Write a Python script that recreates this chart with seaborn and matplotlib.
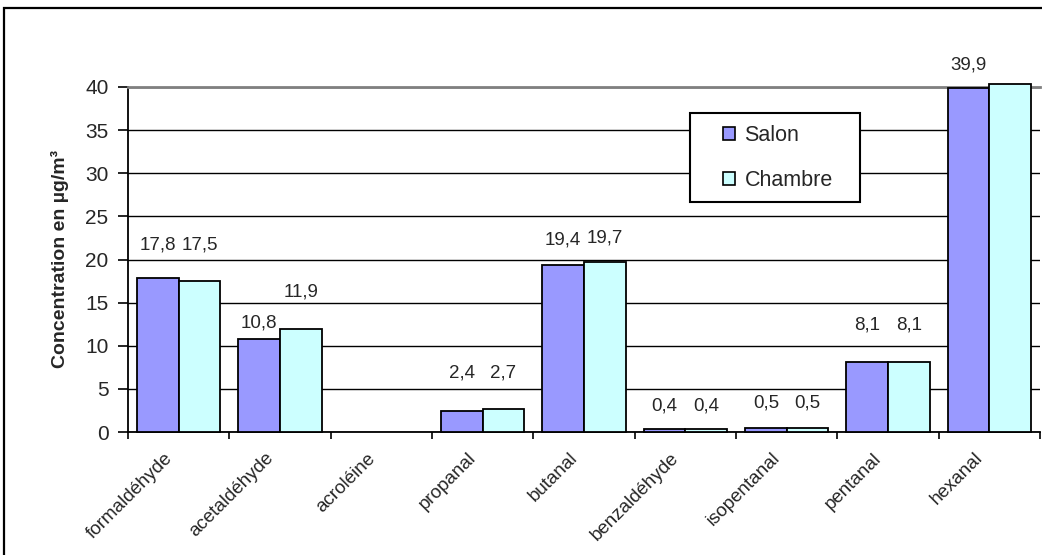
import numpy as np
import pandas as pd
import seaborn as sns
import matplotlib.pyplot as plt
from matplotlib.patches import Rectangle
from matplotlib.transforms import ScaledTranslation

# Aldehyde concentrations measured in two rooms (µg/m³)
compounds = ["formaldéhyde", "acetaldéhyde", "acroléine", "propanal", "butanal",
             "benzaldéhyde", "isopentanal", "pentanal", "hexanal"]
salon = [17.8, 10.8, np.nan, 2.4, 19.4, 0.4, 0.5, 8.1, 39.9]
chambre = [17.5, 11.9, np.nan, 2.7, 19.7, 0.4, 0.5, 8.1, 40.3]
series_names = ["Salon", "Chambre"]
y_ticks = [0, 5, 10, 15, 20, 25, 30, 35, 40]

# vertical gap between each bar top and its value label (pixels)
salon_label_gap = [33, 16, 0, 38, 25, 23, 25, 37, 23]
chambre_label_gap = [36, 37, 0, 36, 24, 23, 25, 37, 23]

sns.set_theme(style="white")
plt.rcParams["font.family"] = ["Liberation Sans", "DejaVu Sans"]

df = pd.DataFrame({
    "compose": compounds * 2,
    "piece": [series_names[0]] * len(compounds) + [series_names[1]] * len(compounds),
    "valeur": salon + chambre,
})

W, H, DPI = 1042, 555, 100
fig = plt.figure(figsize=(W / DPI, H / DPI), dpi=DPI)
ax = fig.add_axes([128 / W, 1 - 432 / H, 912 / W, 345 / H])

palette = {"Salon": "#9999FF", "Chambre": "#CCFFFF"}
sns.barplot(data=df, x="compose", y="valeur", hue="piece", order=compounds,
            hue_order=series_names, palette=palette, width=0.82, dodge=True,
            saturation=1, edgecolor="black", linewidth=1.3, legend=False, ax=ax,
            zorder=3)

for p in ax.patches:
    p.set_clip_on(False)

ax.set_xlim(-0.5, len(compounds) - 0.5)
ax.set_ylim(0, 40)
ax.set_yticks(y_ticks)
ax.set_yticklabels([str(v) for v in y_ticks], fontsize=15)

# horizontal gridlines
ax.yaxis.grid(True, color="black", linewidth=1.0)
ax.xaxis.grid(False)
ax.set_axisbelow(True)

for s in ["left", "bottom"]:
    ax.spines[s].set_color("black")
    ax.spines[s].set_linewidth(1.3)
ax.spines["top"].set_color("#808080")
ax.spines["top"].set_linewidth(2)
ax.spines["right"].set_visible(False)

ax.tick_params(axis="y", which="major", direction="out", length=7, width=1.2,
               color="black", pad=7, left=True)

# category labels centred, tick marks between categories
ax.set_xticks(range(len(compounds)))
ax.set_xticklabels(compounds, rotation=45, ha="right", va="center",
                   rotation_mode="anchor", fontsize=13.5)
ax.set_xticks(np.arange(-0.5, len(compounds), 1.0), minor=True)
ax.tick_params(axis="x", which="major", length=0, pad=17)
ax.tick_params(axis="x", which="minor", direction="out", length=5, width=1.2,
               color="black", bottom=True)
offset = ScaledTranslation(-9 / DPI, 0, fig.dpi_scale_trans)
for lab in ax.get_xticklabels():
    lab.set_transform(lab.get_transform() + offset)

ax.set_xlabel("")
ax.set_ylabel("Concentration en µg/m³", fontsize=14, fontweight="bold", labelpad=12)

# value labels above the bars
for i in range(len(compounds)):
    for j, (vals, gaps) in enumerate([(salon, salon_label_gap), (chambre, chambre_label_gap)]):
        v = vals[i]
        if np.isnan(v) or v > 40:
            continue
        x = i + (j - 0.5) * 0.41
        ax.annotate(f"{v:.1f}".replace(".", ","), xy=(x, v),
                    xytext=(0, gaps[i] * 72 / DPI), textcoords="offset points",
                    ha="center", va="center", fontsize=13.5, annotation_clip=False)

# legend inside its own framed box
box = Rectangle(((690 - 128) / 912, (432 - 202) / 345), 170 / 912, 89 / 345,
                transform=ax.transAxes, facecolor="white", edgecolor="black",
                linewidth=1.5, zorder=4)
ax.add_patch(box)
handles = [Rectangle((0, 0), 1, 1, facecolor=palette[n], edgecolor="black", linewidth=1.2)
           for n in series_names]
leg = ax.legend(handles, series_names, loc="center left",
                bbox_to_anchor=((723 - 128) / 912, (432 - 158) / 345),
                frameon=False, fontsize=15.5, handlelength=0.55, handleheight=0.55,
                handletextpad=0.45, labelspacing=1.1, borderpad=0, borderaxespad=0)
leg.set_zorder(5)

# outer chart frame
fig.patches.append(Rectangle((4 / W, -0.2), 1.2, 1.2 - 8 / H,
                             transform=fig.transFigure, fill=False,
                             edgecolor="black", linewidth=1.6, clip_on=False))

fig.savefig("out.png", dpi=DPI, facecolor="white")
